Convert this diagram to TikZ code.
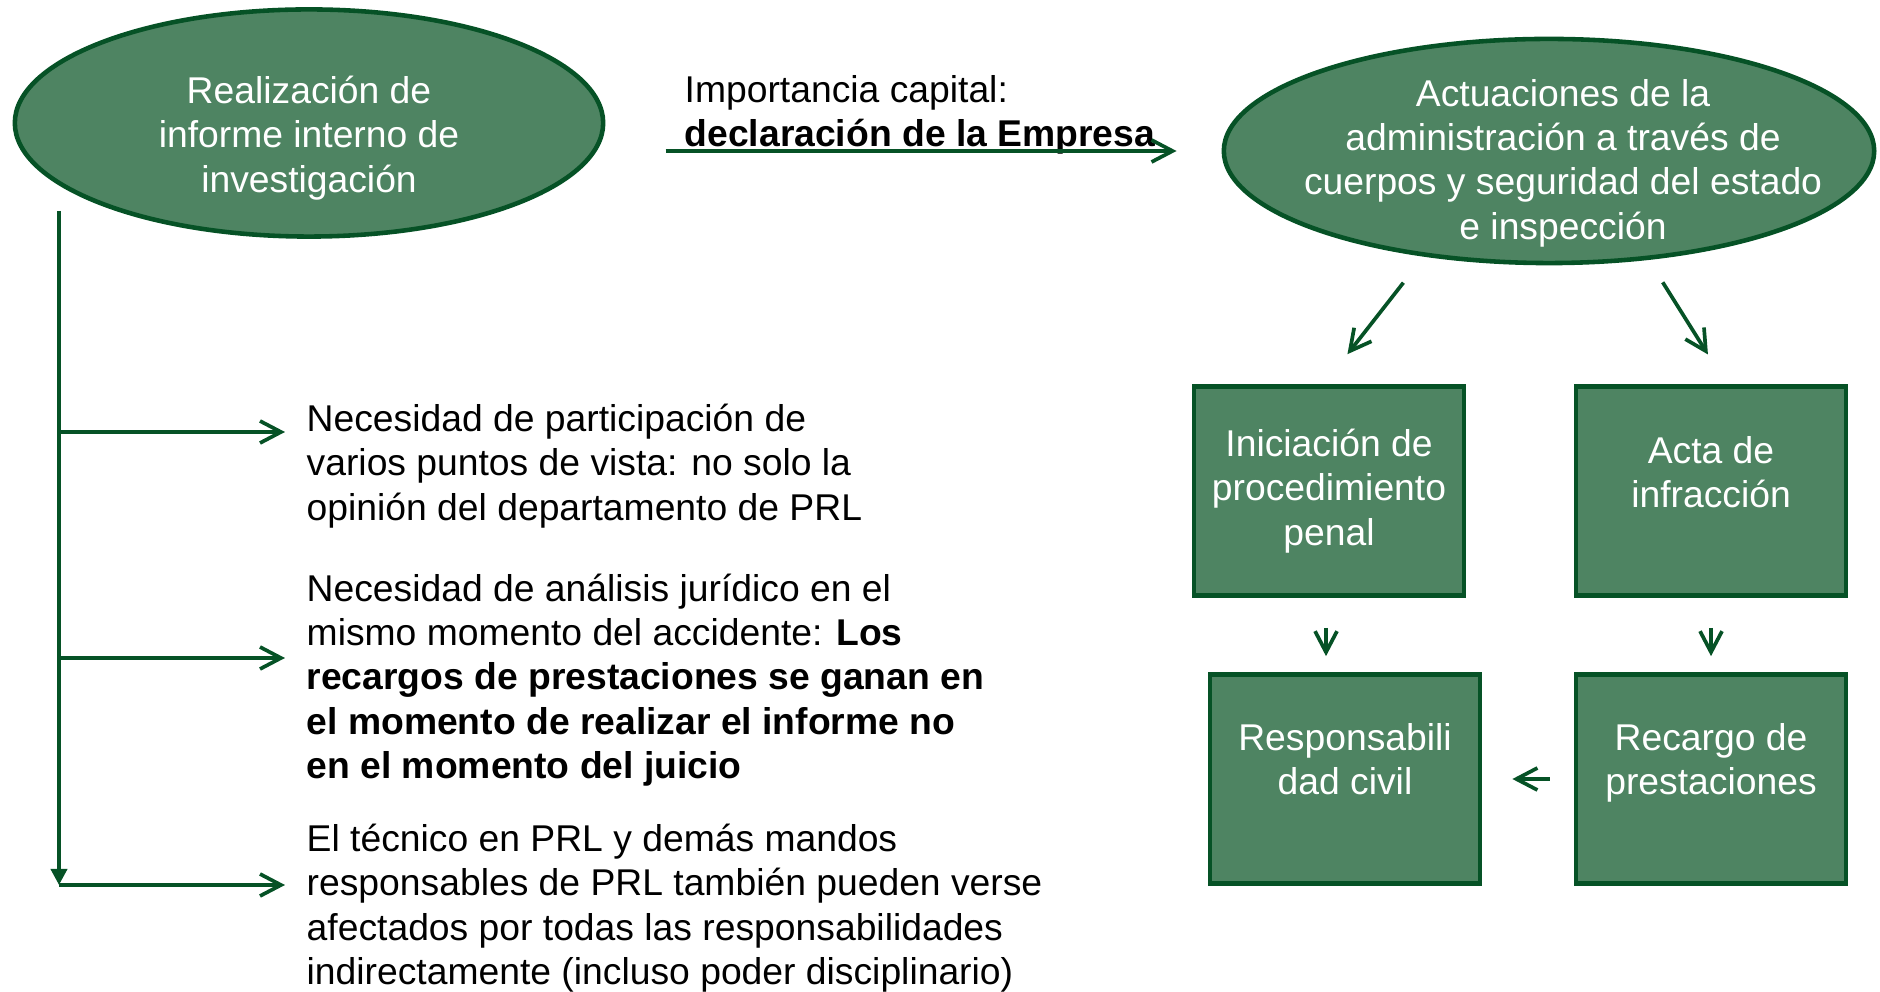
\documentclass[tikz,border=0pt]{standalone}
\usepackage{fontspec}
\setmainfont{Liberation Sans}
\usetikzlibrary{arrows.meta,shapes.geometric}
\definecolor{verde}{RGB}{78,132,98}
\definecolor{verdeosc}{RGB}{6,82,38}

\begin{document}
\begin{tikzpicture}[x=0.01cm, y=-0.01cm,
        every node/.style={font=\fontsize{10.6}{12.6}\selectfont},
        blanco/.style={text=white, align=center, inner sep=0pt},
        oval/.style={ellipse, draw=verdeosc, fill=verde, line width=1.3pt, inner sep=0pt},
        caja/.style={rectangle, draw=verdeosc, fill=verde, line width=1.3pt, blanco,
            minimum width=2.70cm, minimum height=2.09cm},
        nota/.style={anchor=west, align=left, inner sep=0pt},
        flecha/.style={draw=verdeosc, line width=1.05pt, -{Straight Barb[length=2.1mm,width=2.2mm]}},
        eje/.style={draw=verdeosc, line width=1.05pt, -{Triangle[length=1.6mm,width=1.6mm]}}]

    \useasboundingbox (0,0) rectangle (1880,992);

    % elipses
    \node[oval, minimum width=5.88cm, minimum height=2.27cm,
        label={[blanco, yshift=-0.15cm]center:{Realización de\\informe interno de\\investigación}}]
        (informe) at (309,123) {};
    \node[oval, minimum width=6.50cm, minimum height=2.24cm,
        label={[blanco, xshift=0.14cm, yshift=-0.12cm]center:{Actuaciones de la\\administración a través de\\cuerpos y seguridad del estado\\e inspección}}]
        (actuaciones) at (1549,151) {};

    % cajas
    \node[caja] (penal) at (1329,491) {Iniciación de\\procedimiento\\penal};
    \node[caja, label={[blanco, yshift=0.19cm]center:{Acta de\\infracción}}] (acta) at (1711,491) {};
    \node[caja, label={[blanco, yshift=0.2cm]center:{Responsabili\\dad civil}}] (civil) at (1345,779) {};
    \node[caja, label={[blanco, yshift=0.16cm]center:{Recargo de\\prestaciones}}] (recargo) at (1711,779) {};

    % textos
    \node[nota] (importancia) at (684,115) {Importancia capital:\\\textbf{declaración de la Empresa}};
    \node[nota] (nota1) at (306,466) {Necesidad de participación de\\varios puntos de vista: no solo la\\opinión del departamento de PRL};
    \node[nota] (nota2) at (306,680) {Necesidad de análisis jurídico en el\\mismo momento del accidente: \textbf{Los}\\\textbf{recargos de prestaciones se ganan en}\\\textbf{el momento de realizar el informe no}\\\textbf{en el momento del juicio}};
    \node[nota] (nota3) at (306,908) {El técnico en PRL y demás mandos\\responsables de PRL también pueden verse\\afectados por todas las responsabilidades\\indirectamente (incluso poder disciplinario)};

    % conectores
    \coordinate (arriba) at (59,211);
    \coordinate (abajo) at (59,885);
    \draw[eje] (arriba) -- (abajo);
    \foreach \y/\n in {432/nota1,658/nota2,885/nota3}
        \draw[flecha, shorten >=0.21cm] (arriba |- 0,\y) -- (\n.west |- 0,\y);

    \draw[flecha, shorten <=0.6cm, shorten >=0.45cm] (informe.east |- 0,151) -- (actuaciones.west |- 0,151);
    \draw[flecha, shorten <=0.22cm, shorten >=0.38cm] ([xshift=-1.32cm]actuaciones.south) -- ([xshift=-0.05cm]penal.north);
    \draw[flecha, shorten <=0.2cm, shorten >=0.35cm] ([xshift=1.03cm]actuaciones.south) -- ([xshift=0.155cm]acta.north);
    \draw[flecha, shorten <=0.3cm, shorten >=0.16cm] ([xshift=-0.03cm]penal.south) -- ([xshift=-0.03cm]penal.south |- civil.north);
    \draw[flecha, shorten <=0.3cm, shorten >=0.16cm] (acta.south) -- (recargo.north);
    \draw[flecha, shorten <=0.24cm, shorten >=0.3cm] (recargo.west) -- (civil.east);

\end{tikzpicture}
\end{document}
